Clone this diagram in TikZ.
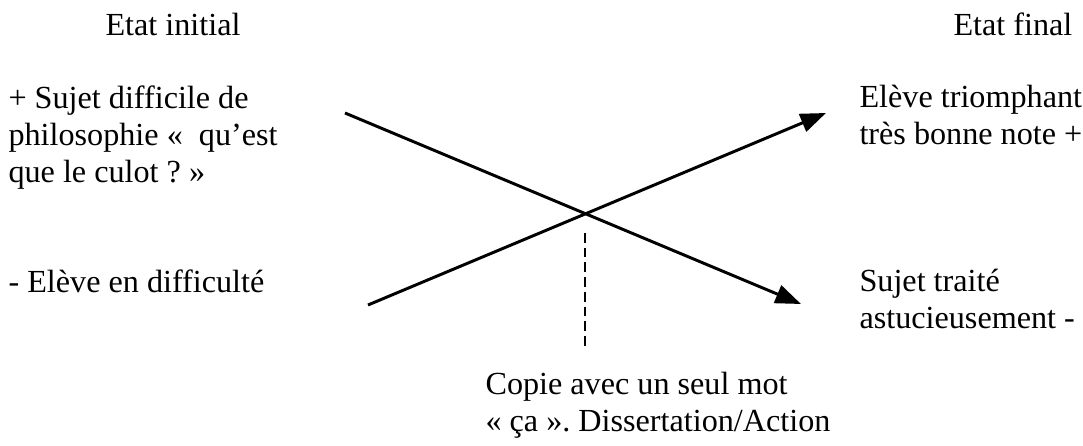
\documentclass[tikz,border=0pt]{standalone}
\usepackage{fontspec}
\setmainfont{Liberation Serif}
\frenchspacing
\usepackage{tikz}
\usetikzlibrary{arrows.meta, positioning}
\tikzset{
  txt/.style={anchor=base west, inner sep=0pt, align=left,
              font=\fontsize{12pt}{13.8pt}\selectfont},
  arrow/.style={-{Triangle[length=9.5pt, width=7pt]}, line width=1.1pt},
  dashline/.style={line width=0.75pt, dash pattern=on 3.6pt off 1.9pt},
}

\begin{document}
\begin{tikzpicture}[x=0.013114cm, y=-0.013114cm]
\useasboundingbox (0,0) rectangle (1083,446);

% ── titres ─────────────────────────────────────────────────────────────────
\node[txt] (ini) at (105,36) {Etat initial};
\node[txt] (fin) at (953,36) {Etat final};

% ── états à gauche (ancre = ligne de base de la dernière ligne) ────────────
\node[txt] (sujet) at (8,183)
  {+ Sujet difficile de\\philosophie «~ qu’est\\que le culot ? »};
\node[txt] (eleve) at (8,293) {- Elève en difficulté};

% ── états à droite ─────────────────────────────────────────────────────────
\node[txt] (triomphe) at (859,145) {Elève triomphant\\très bonne note +};
\node[txt] (traite) at (859,329) {Sujet traité\\astucieusement -};

% ── la croix ───────────────────────────────────────────────────────────────
\coordinate (hautg) at (345,113);
\coordinate (basd)  at (801,304);
\coordinate (basg)  at (368,305);
\coordinate (hautd) at (826,113);
\draw[arrow] (hautg) -- (basd);
\draw[arrow] (basg) -- (hautd);

% ── action ─────────────────────────────────────────────────────────────────
\node[txt] (copie) at (485,432)
  {Copie avec un seul mot\\« ça ». Dissertation/Action};
\coordinate (pied) at (585,233);
\draw[dashline] (pied) -- (pied |- 0,350);

\end{tikzpicture}
\end{document}
